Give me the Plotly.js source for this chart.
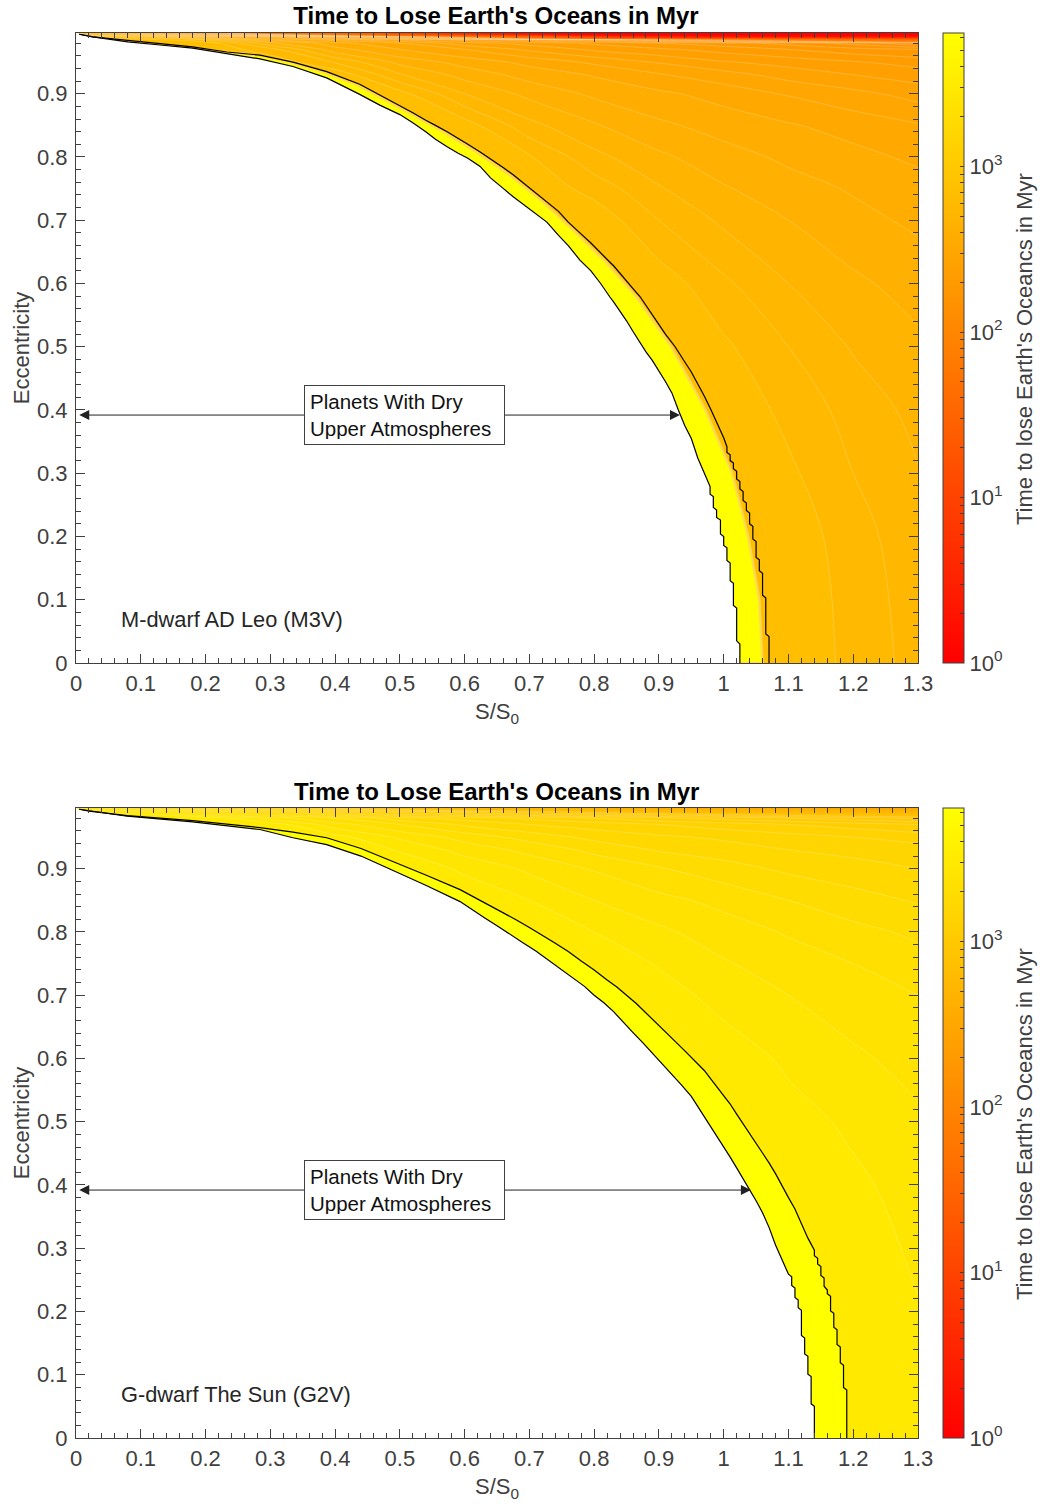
<!DOCTYPE html>
<html><head><meta charset="utf-8">
<script src="https://cdn.plot.ly/plotly-3.0.1.min.js"></script>
<style>html,body{margin:0;padding:0;background:#fff}</style></head>
<body><div id="chart" style="width:1040px;height:1506px"></div>
<script>
const sGrid=[0,0.1,0.2,0.3,0.4,0.5,0.6,0.7,0.8,0.9,1.0,1.1,1.2,1.3];
const eGrid=[0,0.2,0.4,0.5,0.6,0.7,0.75,0.8,0.85,0.9,0.93,0.95,0.97,0.98,0.985,0.99,0.993,0.996];
// log10(time to lose oceans, Myr), rows follow eGrid, columns follow sGrid
const logTimeM=[
[2.84,2.84,2.84,2.84,2.84,2.84,2.84,2.84,2.84,2.84,2.84,2.84,2.785,2.73],
[2.84,2.84,2.84,2.84,2.84,2.84,2.84,2.84,2.84,2.84,2.84,2.835,2.77,2.72],
[2.84,2.84,2.84,2.84,2.84,2.84,2.84,2.84,2.84,2.84,2.84,2.785,2.73,2.685],
[2.84,2.84,2.84,2.84,2.84,2.84,2.84,2.84,2.84,2.84,2.81,2.75,2.695,2.66],
[2.84,2.84,2.84,2.84,2.84,2.84,2.84,2.84,2.84,2.83,2.76,2.70,2.66,2.63],
[2.84,2.84,2.84,2.84,2.84,2.84,2.84,2.84,2.835,2.75,2.69,2.65,2.615,2.59],
[2.84,2.84,2.84,2.84,2.84,2.84,2.84,2.84,2.78,2.705,2.655,2.62,2.595,2.57],
[2.84,2.84,2.84,2.84,2.84,2.84,2.84,2.805,2.715,2.66,2.62,2.59,2.565,2.54],
[2.84,2.84,2.84,2.84,2.84,2.84,2.825,2.715,2.655,2.61,2.58,2.555,2.53,2.505],
[2.84,2.84,2.84,2.84,2.84,2.82,2.70,2.635,2.59,2.56,2.53,2.495,2.465,2.43],
[2.84,2.84,2.84,2.84,2.84,2.705,2.63,2.58,2.545,2.505,2.47,2.43,2.40,2.375],
[2.84,2.84,2.84,2.84,2.745,2.635,2.58,2.535,2.49,2.445,2.405,2.38,2.355,2.33],
[2.84,2.84,2.84,2.77,2.62,2.55,2.50,2.44,2.39,2.36,2.33,2.30,2.27,2.25],
[2.84,2.84,2.84,2.66,2.57,2.50,2.42,2.38,2.34,2.30,2.27,2.23,2.18,2.10],
[2.84,2.84,2.75,2.55,2.48,2.40,2.33,2.26,2.20,2.10,2.00,1.90,1.80,1.70],
[2.84,2.70,2.55,2.40,2.25,2.10,1.90,1.50,0.90,0.50,0.35,0.30,0.30,0.30],
[2.70,2.50,2.30,2.10,1.90,1.50,1.00,0.50,0.15,0.05,0.03,0.02,0.02,0.02],
[2.60,2.30,2.10,1.80,1.50,1.00,0.50,0.10,0.02,0,0,0,0,0]];
const logTimeG=[
[3.49,3.49,3.49,3.49,3.49,3.49,3.49,3.49,3.49,3.49,3.49,3.49,3.49,3.46],
[3.49,3.49,3.49,3.49,3.49,3.49,3.49,3.49,3.49,3.49,3.49,3.49,3.49,3.453],
[3.49,3.49,3.49,3.49,3.49,3.49,3.49,3.49,3.49,3.49,3.49,3.49,3.46,3.43],
[3.49,3.49,3.49,3.49,3.49,3.49,3.49,3.49,3.49,3.49,3.49,3.47,3.44,3.41],
[3.49,3.49,3.49,3.49,3.49,3.49,3.49,3.49,3.49,3.49,3.48,3.44,3.41,3.38],
[3.49,3.49,3.49,3.49,3.49,3.49,3.49,3.49,3.49,3.475,3.43,3.40,3.37,3.35],
[3.49,3.49,3.49,3.49,3.49,3.49,3.49,3.49,3.49,3.445,3.405,3.375,3.35,3.32],
[3.49,3.49,3.49,3.49,3.49,3.49,3.49,3.49,3.45,3.41,3.375,3.345,3.315,3.29],
[3.49,3.49,3.49,3.49,3.49,3.49,3.49,3.45,3.40,3.365,3.335,3.30,3.27,3.245],
[3.49,3.49,3.49,3.49,3.49,3.49,3.44,3.39,3.345,3.305,3.27,3.24,3.22,3.20],
[3.49,3.49,3.49,3.49,3.49,3.445,3.38,3.335,3.285,3.245,3.225,3.20,3.185,3.17],
[3.49,3.49,3.49,3.49,3.47,3.39,3.33,3.28,3.235,3.21,3.19,3.17,3.15,3.13],
[3.49,3.49,3.49,3.48,3.37,3.30,3.24,3.20,3.175,3.15,3.125,3.10,3.075,3.05],
[3.49,3.49,3.49,3.38,3.30,3.22,3.18,3.14,3.10,3.06,3.03,3.00,2.97,2.94],
[3.49,3.48,3.38,3.28,3.20,3.12,3.08,3.03,2.99,2.95,2.92,2.89,2.86,2.84],
[3.45,3.40,3.30,3.20,3.10,3.03,2.98,2.93,2.88,2.84,2.80,2.77,2.75,2.72],
[3.40,3.30,3.20,3.10,3.00,2.92,2.85,2.80,2.75,2.72,2.68,2.65,2.62,2.60],
[3.35,3.20,3.10,3.00,2.90,2.80,2.72,2.65,2.60,2.55,2.50,2.47,2.44,2.42]];

// Edges of the dry-upper-atmosphere band, read as (S/S0, eccentricity)
const mOuterS=[1.07,1.07,1.065,1.065,1.06,1.06,1.055,1.055,1.05,1.05,1.045,1.045,1.04,1.04,1.035,1.035,1.03,1.03,1.025,1.025,1.02,1.02,1.015,1.015,1.01,1.01,1.005,1.005,1.0,0.99,0.98,0.97,0.96,0.95,0.938,0.925,0.91,0.90,0.89,0.88,0.871,0.86,0.85,0.84,0.83,0.824,0.81,0.795,0.778,0.76,0.745,0.727,0.71,0.69,0.675,0.66,0.64,0.624,0.605,0.59,0.573,0.555,0.54,0.52,0.50,0.487,0.469,0.438,0.387,0.335,0.284,0.233,0.18,0.13,0.08,0.026,0.005];
const mOuterE=[0,0.042,0.046,0.103,0.107,0.142,0.146,0.163,0.167,0.192,0.196,0.216,0.22,0.237,0.241,0.253,0.257,0.271,0.275,0.287,0.291,0.303,0.307,0.316,0.32,0.329,0.333,0.342,0.356,0.379,0.401,0.422,0.442,0.46,0.479,0.5,0.52,0.535,0.55,0.565,0.579,0.592,0.604,0.617,0.628,0.634,0.649,0.664,0.68,0.697,0.714,0.729,0.743,0.761,0.772,0.783,0.797,0.808,0.82,0.83,0.84,0.85,0.858,0.87,0.881,0.888,0.898,0.915,0.935,0.95,0.961,0.966,0.974,0.979,0.984,0.99,0.994];
const mInnerS=[1.025,1.025,1.02,1.02,1.015,1.015,1.01,1.01,1.005,1.005,1.0,1.0,0.995,0.995,0.989,0.989,0.984,0.984,0.979,0.979,0.968,0.96,0.95,0.94,0.93,0.92,0.91,0.90,0.89,0.88,0.87,0.86,0.85,0.84,0.83,0.824,0.81,0.795,0.778,0.76,0.745,0.727,0.71,0.69,0.675,0.66,0.64,0.624,0.605,0.59,0.573,0.555,0.54,0.52,0.50,0.469,0.438,0.387,0.335,0.284,0.233,0.18,0.13,0.08,0.026,0.005];
const mInnerE=[0,0.03,0.035,0.087,0.091,0.126,0.13,0.158,0.162,0.182,0.186,0.2,0.204,0.226,0.23,0.242,0.246,0.263,0.267,0.279,0.305,0.324,0.355,0.375,0.4,0.427,0.445,0.462,0.478,0.492,0.507,0.524,0.541,0.557,0.571,0.579,0.6,0.62,0.637,0.66,0.676,0.697,0.71,0.726,0.737,0.75,0.767,0.785,0.798,0.806,0.816,0.828,0.84,0.854,0.867,0.882,0.899,0.925,0.943,0.955,0.963,0.972,0.977,0.982,0.99,0.994];
const mYellowS=[1.06,1.055,1.038,1.013,0.972,0.919,0.865,0.818,0.772,0.721,0.669,0.618,0.567,0.514,0.463,0.432,0.38,0.33,0.28,0.23,0.13,0.026];
const mYellowE=[0,0.1,0.2,0.3,0.4,0.5,0.579,0.634,0.68,0.729,0.772,0.808,0.84,0.87,0.898,0.915,0.935,0.95,0.961,0.966,0.977,0.99];
const gOuterS=[1.19,1.19,1.185,1.185,1.18,1.18,1.175,1.175,1.17,1.17,1.165,1.165,1.16,1.16,1.155,1.155,1.15,1.15,1.145,1.145,1.14,1.14,1.13,1.12,1.11,1.10,1.09,1.08,1.07,1.06,1.05,1.04,1.03,1.02,1.01,1.0,0.985,0.97,0.955,0.94,0.925,0.91,0.895,0.88,0.865,0.85,0.835,0.82,0.80,0.78,0.76,0.74,0.72,0.70,0.68,0.66,0.64,0.62,0.60,0.593,0.54,0.489,0.44,0.387,0.335,0.284,0.18,0.079,0.02,0.005];
const gOuterE=[0,0.076,0.08,0.115,0.119,0.144,0.148,0.171,0.175,0.197,0.201,0.224,0.228,0.234,0.24,0.253,0.257,0.271,0.275,0.284,0.288,0.297,0.316,0.34,0.362,0.38,0.40,0.418,0.435,0.45,0.466,0.482,0.497,0.512,0.528,0.542,0.561,0.581,0.597,0.612,0.627,0.642,0.657,0.672,0.687,0.70,0.713,0.724,0.74,0.754,0.769,0.782,0.795,0.807,0.819,0.83,0.842,0.853,0.863,0.867,0.89,0.911,0.932,0.949,0.958,0.965,0.976,0.984,0.991,0.994];
const gInnerS=[1.14,1.14,1.135,1.135,1.13,1.13,1.125,1.125,1.12,1.12,1.115,1.115,1.11,1.11,1.105,1.105,1.1,1.09,1.08,1.07,1.06,1.05,1.04,1.03,1.02,1.01,1.0,0.99,0.98,0.97,0.96,0.95,0.935,0.92,0.905,0.89,0.875,0.86,0.845,0.83,0.815,0.80,0.785,0.77,0.75,0.73,0.71,0.69,0.67,0.65,0.63,0.61,0.593,0.54,0.489,0.44,0.387,0.335,0.284,0.18,0.079,0.02,0.005];
const gInnerE=[0,0.05,0.054,0.097,0.101,0.129,0.133,0.158,0.162,0.202,0.206,0.218,0.222,0.237,0.241,0.255,0.259,0.281,0.305,0.333,0.356,0.375,0.393,0.41,0.427,0.444,0.46,0.477,0.493,0.509,0.525,0.54,0.558,0.575,0.592,0.608,0.625,0.641,0.658,0.674,0.688,0.70,0.714,0.725,0.74,0.755,0.77,0.783,0.797,0.81,0.823,0.836,0.848,0.874,0.898,0.92,0.938,0.949,0.962,0.974,0.983,0.991,0.994];

const cbTickMyr=[1,2,3,4,5,6,7,8,9,10,20,30,40,50,60,70,80,90,100,200,300,400,500,600,700,800,900,1000,2000,3000,4000,5000,6000];
const cbTickLabels={1:'10<sup>0</sup>',10:'10<sup>1</sup>',100:'10<sup>2</sup>',1000:'10<sup>3</sup>'};
const panelTitle="Time to Lose Earth's Oceans in Myr";
const cbTitle="Time to lose Earth's Oceancs in Myr";
const boxLines='Planets With Dry<br>Upper Atmospheres';
const starLabels=['M-dwarf AD Leo (M3V)','G-dwarf The Sun (G2V)'];
const arrowE=0.392, arrowLeftS=0.005, arrowRightS=[0.9325,1.042];

const W=1040,H=1506,FONT='"Liberation Sans",Arial,sans-serif',INK='#404040';
const ZMAX=3.807, ETOP=0.996;
const scale=[[0,'rgb(255,0,0)'],[1,'rgb(255,255,0)']];
const panels=[
 {xa:'x',ya:'y',top:33,bot:663,z:logTimeM,oS:mOuterS,oE:mOuterE,iS:mInnerS,iE:mInnerE,yS:mYellowS,yE:mYellowE,pale:'rgba(255,214,90,0.9)',yw:2.5,ls:2.0},
 {xa:'x2',ya:'y2',top:808,bot:1438,z:logTimeG,oS:gOuterS,oE:gOuterE,iS:gInnerS,iE:gInnerE,yS:gOuterS,yE:gOuterE,pale:'rgba(255,255,0,0)',yw:0,ls:2.9}];
const traces=[];
panels.forEach(p=>{
 const base={xaxis:p.xa,yaxis:p.ya,hoverinfo:'skip',showlegend:false};
 traces.push(Object.assign({},base,{type:'heatmap',x:sGrid,y:eGrid,z:p.z,zmin:0,zmax:ZMAX,colorscale:scale,showscale:true,
  colorbar:{x:943/W,xanchor:'left',xpad:0,ypad:0,y:1-p.top/H,yanchor:'top',len:(p.bot-p.top)/H,lenmode:'fraction',thickness:21,thicknessmode:'pixels',
   ticks:'inside',ticklen:4,tickwidth:1,tickcolor:INK,outlinecolor:INK,outlinewidth:1,tickmode:'array',
   tickvals:cbTickMyr.map(v=>Math.log10(v)),ticktext:cbTickMyr.map(v=>cbTickLabels[v]||''),
   tickfont:{family:FONT,size:22,color:INK}}}));
 traces.push(Object.assign({},base,{type:'contour',x:sGrid,y:eGrid,z:p.z,zmin:0,zmax:ZMAX,colorscale:scale,showscale:false,
  autocontour:false,contours:{start:0,end:3.8,size:0.05,coloring:'fill',showlines:false},line:{width:0}}));
 traces.push(Object.assign({},base,{type:'contour',x:sGrid,y:eGrid,z:p.z,showscale:false,autocontour:false,
  contours:{start:p.ls,end:3.8,size:0.05,coloring:'none'},line:{color:'rgba(255,255,255,0.3)',width:0.7,smoothing:1}}));
 traces.push(Object.assign({},base,{type:'scatter',mode:'lines',x:[0].concat(p.yS,[0]),y:[0].concat(p.yE,[ETOP]),fill:'toself',fillcolor:'rgb(255,255,0)',line:{color:p.pale,width:p.yw}}));
 traces.push(Object.assign({},base,{type:'scatter',mode:'lines',x:[0].concat(p.iS,[0]),y:[0].concat(p.iE,[ETOP]),fill:'toself',fillcolor:'#ffffff',line:{width:0}}));
 traces.push(Object.assign({},base,{type:'scatter',mode:'lines',x:p.oS,y:p.oE,line:{color:'#000',width:1.2}}));
 traces.push(Object.assign({},base,{type:'scatter',mode:'lines',x:p.iS,y:p.iE,line:{color:'#000',width:1.2}}));
});
const axBase={showgrid:false,zeroline:false,showline:true,linecolor:INK,linewidth:1,mirror:'ticks',ticks:'inside',ticklen:9,tickwidth:1,tickcolor:INK,
 tickfont:{family:FONT,size:22,color:INK},dtick:0.1,tick0:0,layer:'above traces',
 minor:{dtick:0.02,tick0:0,ticks:'inside',ticklen:5,tickwidth:1,tickcolor:INK,showgrid:false}};
const xAx=(a)=>Object.assign({},axBase,{anchor:a,domain:[76/W,918/W],range:[0,1.3],ticklabelstandoff:1,title:{text:'S/S<sub>0</sub>',standoff:8,font:{family:FONT,size:22,color:INK}}});
const yAx=(a,p)=>Object.assign({},axBase,{anchor:a,domain:[1-p.bot/H,1-p.top/H],range:[0,ETOP],ticklabelstandoff:3,title:{text:'Eccentricity',standoff:1,font:{family:FONT,size:22,color:INK}}});
const ann=[];
panels.forEach((p,i)=>{
 const xr=p.xa,yr=p.ya;
 [arrowLeftS,arrowRightS[i]].forEach(end=>{
  ann.push({xref:xr,yref:yr,axref:xr,ayref:yr,x:end,y:arrowE,ax:end<0.5?0.36:0.65,ay:arrowE,text:'',showarrow:true,arrowhead:2,arrowsize:2,arrowwidth:1,arrowcolor:'#222',standoff:0,startstandoff:0});
 });
 ann.push({xref:xr,yref:yr,x:0.5072,y:arrowE,text:boxLines,showarrow:false,align:'left',bgcolor:'#fff',bordercolor:INK,borderwidth:1,borderpad:5,width:189,height:48,font:{family:FONT,size:20.5,color:'#111'}});
 ann.push({xref:xr,yref:yr,x:0.0665,y:0.068,xanchor:'left',yanchor:'middle',text:starLabels[i],showarrow:false,font:{family:FONT,size:21.8,color:'#262626'}});
 ann.push({xref:'paper',yref:'paper',x:1024/W,y:1-((p.top+p.bot)/2+1)/H,xanchor:'center',yanchor:'middle',textangle:-90,text:cbTitle,showarrow:false,font:{family:FONT,size:22,color:INK}});
});
ann.push({xref:'paper',yref:'paper',x:496/W,y:1-791/H,xanchor:'center',yanchor:'middle',text:'<b>'+panelTitle+'</b>',showarrow:false,font:{family:FONT,size:24,color:'#000'}});
const layout={width:W,height:H,margin:{l:0,r:0,t:0,b:0},paper_bgcolor:'#fff',plot_bgcolor:'#fff',
 title:{text:'<b>'+panelTitle+'</b>',x:496/W,xanchor:'center',y:1-16/H,yanchor:'middle',font:{family:FONT,size:24,color:'#000'}},
 xaxis:xAx('y'),yaxis:yAx('x',panels[0]),xaxis2:xAx('y2'),yaxis2:yAx('x2',panels[1]),annotations:ann};
Plotly.newPlot('chart',traces,layout,{displayModeBar:false,staticPlot:true});
</script></body></html>
